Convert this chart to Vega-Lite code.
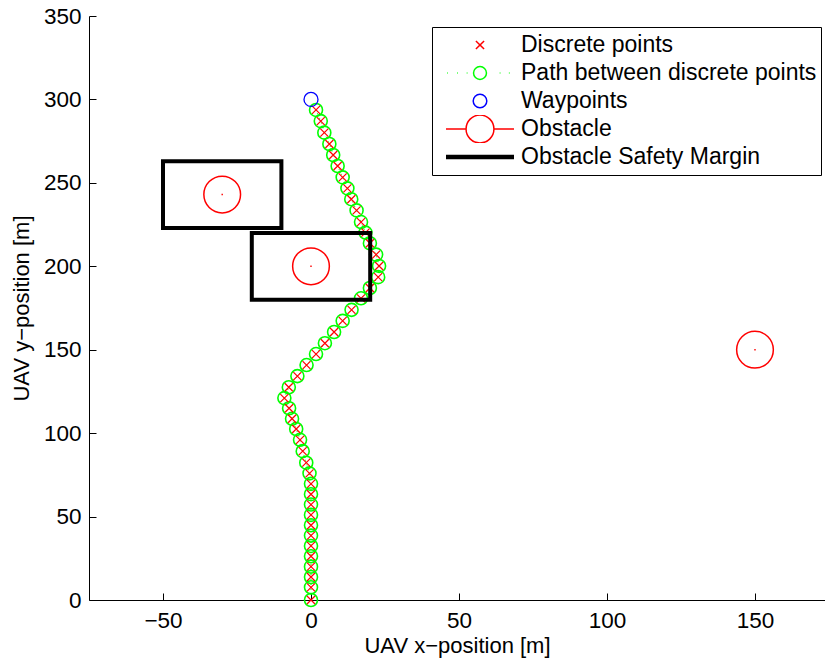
{
  "$schema": "https://vega.github.io/schema/vega-lite/v6.json",
  "width": 736,
  "height": 584,
  "autosize": {"type": "none"},
  "padding": {"left": 89, "top": 16, "right": 0, "bottom": 63},
  "background": "white",
  "config": {
    "font": "Liberation Sans",
    "view": {"stroke": null},
    "axis": {
      "grid": false,
      "domainColor": "black",
      "domainWidth": 1,
      "tickColor": "black",
      "tickWidth": 1,
      "tickSize": -7,
      "labelColor": "black",
      "titleColor": "black",
      "labelFont": "Liberation Sans",
      "titleFont": "Liberation Sans",
      "labelFontSize": 22.5,
      "titleFontSize": 22,
      "titleFontWeight": "normal"
    },
    "legend": {
      "orient": "none",
      "legendX": 343,
      "legendY": 11,
      "padding": 4,
      "strokeColor": "black",
      "fillColor": "white",
      "symbolSize": 4624,
      "symbolStrokeWidth": 1.5,
      "symbolOpacity": 1,
      "symbolFillColor": "transparent",
      "symbolOffset": 9,
      "labelOffset": 6,
      "clipHeight": 28,
      "rowPadding": 0,
      "labelFont": "Liberation Sans",
      "labelFontSize": 23,
      "labelColor": "black",
      "labelLimit": 500
    }
  },
  "datasets": {
    "path": [
      {"i": 0, "x": 0, "y": 0}, {"i": 1, "x": 0, "y": 7.6}, {"i": 2, "x": 0, "y": 13.8}, {"i": 3, "x": 0, "y": 20.0},
      {"i": 4, "x": 0, "y": 26.2}, {"i": 5, "x": 0, "y": 32.4}, {"i": 6, "x": 0, "y": 38.6}, {"i": 7, "x": 0, "y": 44.8},
      {"i": 8, "x": 0, "y": 51.0}, {"i": 9, "x": 0, "y": 57.2}, {"i": 10, "x": 0, "y": 63.4}, {"i": 11, "x": 0, "y": 69.6},
      {"i": 12, "x": -0.5, "y": 75.9}, {"i": 13, "x": -1.6, "y": 82.3}, {"i": 14, "x": -2.8, "y": 89.2}, {"i": 15, "x": -3.7, "y": 96.0},
      {"i": 16, "x": -5.0, "y": 102.5}, {"i": 17, "x": -6.4, "y": 108.6}, {"i": 18, "x": -7.4, "y": 114.9}, {"i": 19, "x": -9.0, "y": 121.0},
      {"i": 20, "x": -7.5, "y": 127.5}, {"i": 21, "x": -4.6, "y": 134.2}, {"i": 22, "x": -1.5, "y": 140.8}, {"i": 23, "x": 1.7, "y": 147.4},
      {"i": 24, "x": 4.7, "y": 153.9}, {"i": 25, "x": 7.8, "y": 160.6}, {"i": 26, "x": 10.7, "y": 167.3}, {"i": 27, "x": 13.7, "y": 173.9},
      {"i": 28, "x": 16.9, "y": 180.8}, {"i": 29, "x": 19.9, "y": 187.0}, {"i": 30, "x": 22.7, "y": 193.5}, {"i": 31, "x": 23.0, "y": 200.2},
      {"i": 32, "x": 22.0, "y": 207.0}, {"i": 33, "x": 19.9, "y": 213.8}, {"i": 34, "x": 18.4, "y": 220.2}, {"i": 35, "x": 16.9, "y": 226.5},
      {"i": 36, "x": 15.4, "y": 233.5}, {"i": 37, "x": 13.6, "y": 240.2}, {"i": 38, "x": 12.3, "y": 246.7}, {"i": 39, "x": 10.7, "y": 253.3},
      {"i": 40, "x": 9.0, "y": 260.1}, {"i": 41, "x": 7.5, "y": 266.7}, {"i": 42, "x": 6.2, "y": 273.3}, {"i": 43, "x": 4.5, "y": 280.1},
      {"i": 44, "x": 3.3, "y": 287.0}, {"i": 45, "x": 1.7, "y": 293.7}
    ],
    "waypoints": [{"x": 0, "y": 300}],
    "obstacles": [{"x": -30, "y": 243}, {"x": 0, "y": 200}, {"x": 150, "y": 150}],
    "margins": [
      {"x1": -50, "x2": -10, "y1": 223, "y2": 263},
      {"x1": -20, "x2": 20, "y1": 180, "y2": 220}
    ],
    "series": [
      {"series": "Discrete points"},
      {"series": "Path between discrete points"},
      {"series": "Waypoints"},
      {"series": "Obstacle"},
      {"series": "Obstacle Safety Margin"}
    ]
  },
  "layer": [
    {
      "data": {"name": "path"},
      "mark": {"type": "line", "strokeDash": [1, 4], "strokeWidth": 1, "color": "#00ff00"},
      "encoding": {
        "x": {"field": "x", "type": "quantitative", "scale": {"domain": [-75, 173.65], "nice": false, "zero": false},
              "axis": {"values": [-50, 0, 50, 100, 150], "title": "UAV x−position [m]", "labelPadding": 16, "titlePadding": 4}},
        "y": {"field": "y", "type": "quantitative", "scale": {"domain": [0, 350], "nice": false},
              "axis": {"values": [0, 50, 100, 150, 200, 250, 300, 350], "title": "UAV y−position [m]", "labelPadding": 15, "titlePadding": 10}},
        "order": {"field": "i", "type": "quantitative"}
      }
    },
    {
      "data": {"name": "path"},
      "mark": {"type": "point", "shape": "circle", "filled": false, "size": 169, "strokeWidth": 1.6, "opacity": 1, "color": "#00ff00"},
      "encoding": {
        "x": {"field": "x", "type": "quantitative"},
        "y": {"field": "y", "type": "quantitative"}
      }
    },
    {
      "data": {"name": "path"},
      "mark": {"type": "point", "shape": "M-1,-1L1,1M1,-1L-1,1", "filled": false, "size": 64, "strokeWidth": 1.2, "opacity": 1, "color": "#ff0000"},
      "encoding": {
        "x": {"field": "x", "type": "quantitative"},
        "y": {"field": "y", "type": "quantitative"}
      }
    },
    {
      "data": {"name": "waypoints"},
      "mark": {"type": "point", "shape": "circle", "filled": false, "size": 196, "strokeWidth": 1.3, "opacity": 1, "color": "#0000ff"},
      "encoding": {
        "x": {"field": "x", "type": "quantitative"},
        "y": {"field": "y", "type": "quantitative"}
      }
    },
    {
      "data": {"name": "obstacles"},
      "mark": {"type": "point", "shape": "circle", "filled": false, "size": 1347, "strokeWidth": 1.5, "opacity": 1, "color": "#ff0000"},
      "encoding": {
        "x": {"field": "x", "type": "quantitative"},
        "y": {"field": "y", "type": "quantitative"}
      }
    },
    {
      "data": {"name": "obstacles"},
      "mark": {"type": "point", "shape": "square", "filled": true, "size": 2, "opacity": 1, "color": "#ff0000"},
      "encoding": {
        "x": {"field": "x", "type": "quantitative"},
        "y": {"field": "y", "type": "quantitative"}
      }
    },
    {
      "data": {"name": "margins"},
      "mark": {"type": "rect", "filled": false, "strokeWidth": 4, "strokeJoin": "miter", "opacity": 1, "color": "#000000"},
      "encoding": {
        "x": {"field": "x1", "type": "quantitative"},
        "x2": {"field": "x2"},
        "y": {"field": "y1", "type": "quantitative"},
        "y2": {"field": "y2"}
      }
    },
    {
      "data": {"name": "series"},
      "transform": [{"filter": "false"}],
      "mark": {"type": "point", "filled": false, "size": 4624, "strokeWidth": 1.5, "opacity": 1},
      "encoding": {
        "color": {
          "field": "series",
          "type": "nominal",
          "scale": {
            "domain": ["Discrete points", "Path between discrete points", "Waypoints", "Obstacle", "Obstacle Safety Margin"],
            "range": ["#ff0000", "#00ff00", "#0000ff", "#ff0000", "#000000"]
          },
          "legend": {"title": null, "orient": "none", "legendX": 343, "legendY": 11}
        },
        "shape": {
          "field": "series",
          "type": "nominal",
          "scale": {
            "domain": ["Discrete points", "Path between discrete points", "Waypoints", "Obstacle", "Obstacle Safety Margin"],
            "range": [
              "M-0.12,-0.12L0.12,0.12M0.12,-0.12L-0.12,0.12",
              "M-0.96,0L-0.94,0M-0.67,0L-0.65,0M-0.39,0L-0.37,0M0.58,0L0.6,0M0.85,0L0.87,0M-0.19,0A0.19,0.19,0,1,1,0.19,0A0.19,0.19,0,1,1,-0.19,0",
              "M-0.2,0A0.2,0.2,0,1,1,0.2,0A0.2,0.2,0,1,1,-0.2,0",
              "M-1,0L-0.41,0M0.41,0L1,0M-0.41,0A0.41,0.41,0,1,1,0.41,0A0.41,0.41,0,1,1,-0.41,0",
              "M-1,-0.045L1,-0.045M-1,-0.015L1,-0.015M-1,0.015L1,0.015M-1,0.045L1,0.045"
            ]
          },
          "legend": {"title": null, "orient": "none", "legendX": 343, "legendY": 11}
        }
      }
    }
  ]
}
